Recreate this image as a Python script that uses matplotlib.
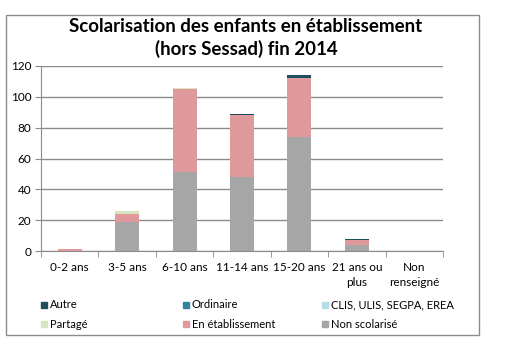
import numpy as np
import matplotlib.pyplot as plt
from matplotlib.patches import Rectangle

categories = ['0-2 ans', '3-5 ans', '6-10 ans', '11-14 ans', '15-20 ans', '21 ans ou\nplus', 'Non\nrenseigné']
non_scolarise = [0, 19, 51, 48, 74, 4, 0]
en_etablissement = [1, 5, 54, 40, 38, 3, 0]
partage = [0, 2, 1, 0, 0, 0, 0]
clis = [0, 0, 0, 0, 0, 0, 0]
ordinaire = [0, 0, 0, 0, 0, 0, 0]
autre = [0, 0, 0, 1, 2, 1, 0]

series = [
    ('Non scolarisé', non_scolarise, '#a6a6a6'),
    ('En établissement', en_etablissement, '#e0999a'),
    ('Partagé', partage, '#d7e4bd'),
    ('CLIS, ULIS, SEGPA, EREA', clis, '#b7dee8'),
    ('Ordinaire', ordinaire, '#31859c'),
    ('Autre', autre, '#1f4e5c'),
]

plt.rcParams['font.family'] = ['Lato', 'DejaVu Sans']

fig = plt.figure(figsize=(5.07, 3.53), dpi=100)
W, H = 507, 353
ax = fig.add_axes([41 / W, 1 - 251 / H, (443 - 41) / W, (251 - 66) / H])

# cadre du graphique
fig.patches.append(Rectangle((6 / W, 1 - 335 / H), (479 - 6) / W, (335 - 15) / H,
                             transform=fig.transFigure, fill=False,
                             edgecolor='#8c8c8c', linewidth=1))

x = np.arange(len(categories))
bottom = np.zeros(len(categories))
for name, vals, col in series:
    ax.bar(x, vals, width=0.42, bottom=bottom, color=col, zorder=3)
    bottom += np.array(vals)

ax.set_xlim(-0.5, len(categories) - 0.5)
ax.set_ylim(0, 120)
ax.set_yticks(range(0, 121, 20))
ax.grid(axis='y', color='#8c8c8c', linewidth=1, zorder=0)
ax.set_xticks(x)
ax.set_xticklabels(categories, fontsize=8.5, linespacing=1.45)
ax.set_xticks(np.arange(-0.5, len(categories), 1), minor=True)
ax.tick_params(axis='x', which='major', length=0, pad=8)
ax.tick_params(axis='x', which='minor', length=4, color='#8c8c8c')
ax.tick_params(axis='y', length=4, color='#8c8c8c', labelsize=8.5, pad=3)
for s in ['top', 'right']:
    ax.spines[s].set_visible(False)
for s in ['left', 'bottom']:
    ax.spines[s].set_color('#8c8c8c')

fig.text(246 / W, 1 - 27 / H, 'Scolarisation des enfants en établissement',
         ha='center', va='center', fontsize=13.5, fontweight='bold')
fig.text(246 / W, 1 - 49 / H, '(hors Sessad) fin 2014',
         ha='center', va='center', fontsize=13.5, fontweight='bold')

# légende en 3 colonnes
legend_order = ['Autre', 'Ordinaire', 'CLIS, ULIS, SEGPA, EREA',
                'Partagé', 'En établissement', 'Non scolarisé']
colors = {name: col for name, _, col in series}
col_x = [41, 183, 322]
row_y = [305, 324]
for i, name in enumerate(legend_order):
    lx = col_x[i % 3]
    ly = row_y[i // 3]
    fig.patches.append(Rectangle((lx / W, 1 - (ly + 3) / H), 6 / W, 6 / H,
                                 transform=fig.transFigure, color=colors[name]))
    fig.text((lx + 9) / W, 1 - ly / H, name, ha='left', va='center', fontsize=8)

fig.savefig('out.png', dpi=100)
